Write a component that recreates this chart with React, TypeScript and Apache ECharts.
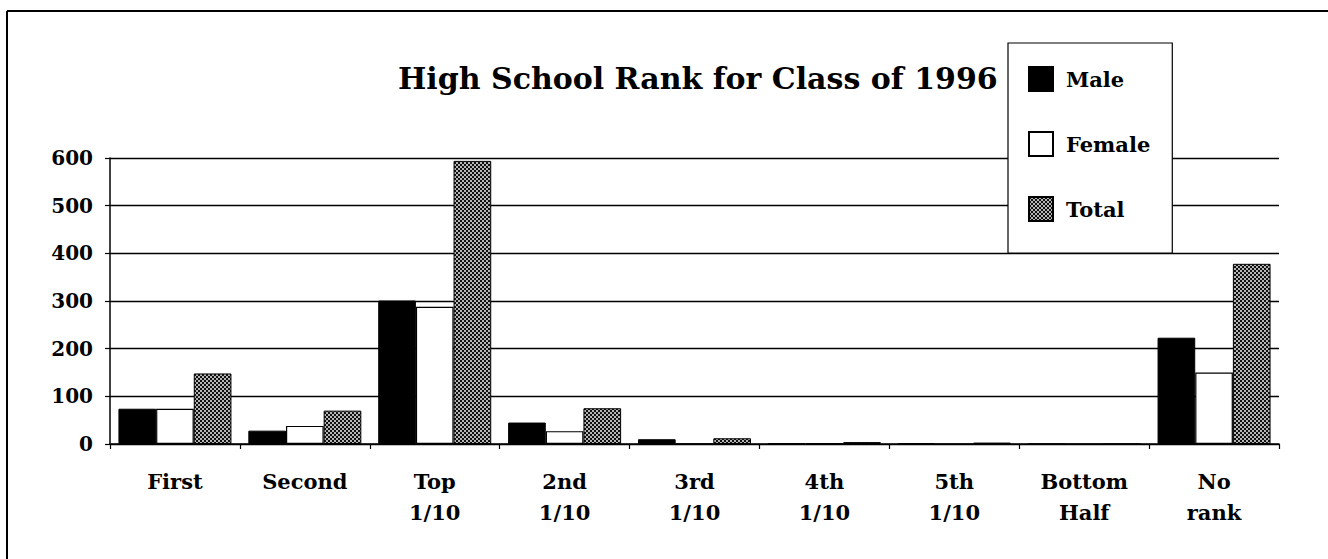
import React, { useEffect, useRef } from "react";
import * as echarts from "echarts";

const categories = [
  "First",
  "Second",
  "Top\n1/10",
  "2nd\n1/10",
  "3rd\n1/10",
  "4th\n1/10",
  "5th\n1/10",
  "Bottom\nHalf",
  "No\nrank",
];
const maleValues = [74, 28, 301, 45, 10, 2, 2, 0, 223];
const femaleValues = [74, 38, 288, 27, 1, 2, 0, 0, 150];
const totalValues = [148, 70, 594, 75, 12, 4, 3, 0, 378];
const yTicks = { min: 0, max: 600, interval: 100 };
const titleText = "High School Rank for Class of 1996";

const FONT = "'DejaVu Serif', 'Liberation Serif', serif";

function makePattern(): HTMLCanvasElement {
  const c = document.createElement("canvas");
  c.width = 4;
  c.height = 4;
  const ctx = c.getContext("2d")!;
  ctx.fillStyle = "#b5b5b5";
  ctx.fillRect(0, 0, 4, 4);
  ctx.fillStyle = "#111";
  ctx.fillRect(0, 0, 2, 2);
  ctx.fillRect(2, 2, 2, 2);
  return c;
}

export default function App() {
  const ref = useRef<HTMLDivElement>(null);
  useEffect(() => {
    if (!ref.current) return;
    const chart = echarts.init(ref.current, null, { renderer: "svg" });
    const pattern: any = {
      image: makePattern(),
      repeat: "repeat",
      imageWidth: 4,
      imageHeight: 4,
    };
    const barCommon = {
      type: "bar" as const,
      barGap: "0%",
      barCategoryGap: "13%",
    };
    chart.setOption({
      animation: false,
      backgroundColor: "#fff",
      title: {
        text: titleText,
        left: 393,
        top: 58,
        textStyle: {
          fontFamily: FONT,
          fontSize: 30,
          fontWeight: "bold",
          color: "#000",
        },
      },
      legend: {
        orient: "vertical",
        left: 1008,
        top: 43,
        padding: [23, 22, 31, 20],
        itemGap: 39,
        itemWidth: 24,
        itemHeight: 24,
        icon: "rect",
        backgroundColor: "#fff",
        borderColor: "#000",
        borderWidth: 1.2,
        textStyle: {
          fontFamily: FONT,
          fontSize: 21,
          fontWeight: "bold",
          color: "#000",
          padding: [0, 0, 0, 8],
        },
        data: ["Male", "Female", "Total"],
      },
      grid: { left: 110, right: 49, top: 158, bottom: 115 },
      xAxis: {
        type: "category",
        data: categories,
        axisLine: { lineStyle: { color: "#000", width: 1.5 } },
        axisTick: { show: true, length: 5, lineStyle: { color: "#000", width: 1.2 } },
        axisLabel: {
          fontFamily: FONT,
          fontSize: 21,
          fontWeight: "bold",
          color: "#000",
          lineHeight: 31,
          margin: 22,
          interval: 0,
        },
      },
      yAxis: {
        type: "value",
        min: yTicks.min,
        max: yTicks.max,
        interval: yTicks.interval,
        axisLine: { show: true, lineStyle: { color: "#000", width: 1.5 } },
        axisTick: { show: true, length: 5, lineStyle: { color: "#000", width: 1.2 } },
        splitLine: { show: true, lineStyle: { color: "#000", width: 1.3 } },
        axisLabel: {
          fontFamily: FONT,
          fontSize: 20,
          fontWeight: "bold",
          color: "#000",
          margin: 17,
        },
      },
      graphic: [
        {
          type: "line",
          shape: { x1: 7, y1: 11, x2: 1328, y2: 11 },
          style: { stroke: "#000", lineWidth: 2 },
        },
        {
          type: "line",
          shape: { x1: 7, y1: 11, x2: 7, y2: 559 },
          style: { stroke: "#000", lineWidth: 2 },
        },
      ],
      series: [
        {
          ...barCommon,
          name: "Male",
          data: maleValues,
          itemStyle: { color: "#000", borderColor: "#000", borderWidth: 1 },
        },
        {
          ...barCommon,
          name: "Female",
          data: femaleValues,
          itemStyle: { color: "#fff", borderColor: "#000", borderWidth: 1.2 },
        },
        {
          ...barCommon,
          name: "Total",
          data: totalValues,
          itemStyle: { color: pattern, borderColor: "#000", borderWidth: 1 },
        },
      ],
    });
    return () => chart.dispose();
  }, []);
  return (
    <div
      ref={ref}
      style={{ position: "fixed", left: 0, top: 0, width: 1328, height: 559 }}
    />
  );
}
